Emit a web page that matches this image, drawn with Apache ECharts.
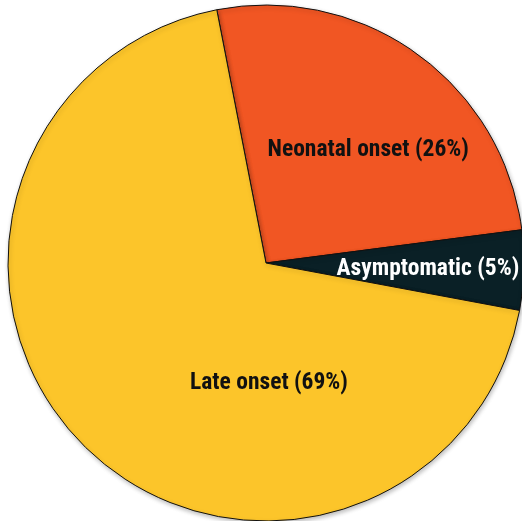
<!DOCTYPE html>
<html>
<head>
<meta charset="utf-8">
<script src="https://cdn.jsdelivr.net/npm/echarts@6/dist/echarts.min.js"></script>
<style>html,body{margin:0;padding:0;background:#fff;}#c{width:522px;height:521px;}</style>
</head>
<body>
<div id="c"></div>
<script>
const categories = ['Neonatal onset', 'Asymptomatic', 'Late onset'];
const values = [26, 5, 69];
const colors = ['#F15623', '#0A2026', '#FCC52A'];
const labelColors = ['#111111', '#ffffff', '#111111'];
const labelOffsets = [[25, -6], [30, 2], [96, 26]];

const chart = echarts.init(document.getElementById('c'), null, {renderer: 'canvas'});
chart.setOption({
  animation: false,
  backgroundColor: '#ffffff',
  series: [{
    type: 'pie',
    center: [266, 263],
    radius: [0, 258],
    startAngle: 101,
    clockwise: true,
    avoidLabelOverlap: false,
    labelLine: {show: false},
    itemStyle: {borderColor: '#111', borderWidth: 1, shadowColor: 'rgba(0,0,0,0.25)', shadowBlur: 4, shadowOffsetX: 1, shadowOffsetY: 2},
    emphasis: {disabled: true},
    data: categories.map((c, i) => ({
      name: c,
      value: values[i],
      itemStyle: {color: colors[i]},
      label: {
        show: true,
        position: 'inside',
        formatter: '{b} ({c}%)',
        color: labelColors[i],
        fontFamily: '"Liberation Sans Narrow", "Roboto Condensed", "DejaVu Sans Condensed", sans-serif',
        fontWeight: 'bold',
        fontSize: 23.5,
        offset: labelOffsets[i]
      }
    }))
  }]
});
</script>
</body>
</html>
